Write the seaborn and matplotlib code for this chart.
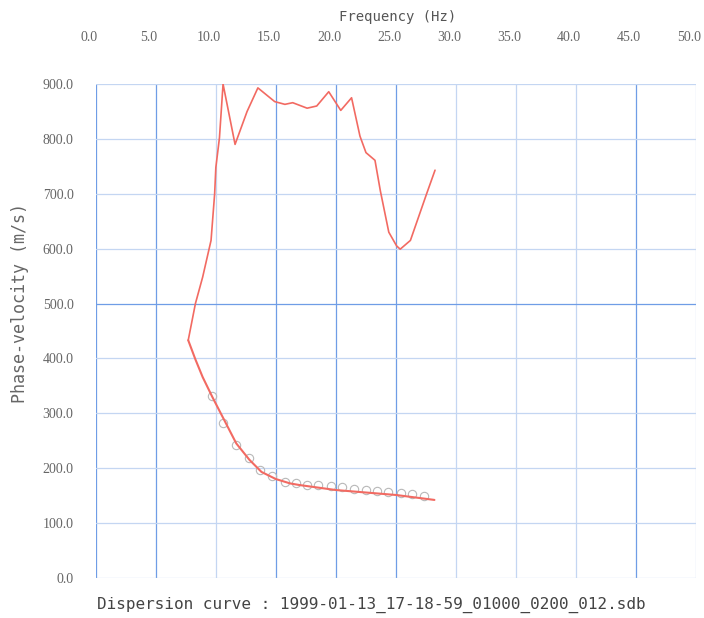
import numpy as np
import pandas as pd
import matplotlib
matplotlib.use("Agg")
import matplotlib.pyplot as plt
import matplotlib.transforms as mtransforms
import seaborn as sns

# upper branch of the dispersion curve (Hz, m/s)
upper_freq = [7.7, 8.3, 8.9, 9.6, 9.9, 10.0, 10.3, 10.6, 11.6, 12.6, 13.5, 14.9,
              15.75, 16.4, 17.6, 18.4, 19.4, 20.4, 21.3, 22.0, 22.5, 23.25,
              23.7, 24.4, 25.05, 25.35, 26.2, 27.55, 28.25]
upper_vel = [433, 500, 548, 615, 700, 748, 802, 900, 790, 850, 893, 868,
             863, 866, 856, 860, 886, 852, 875, 805, 775, 761,
             705, 630, 605, 599, 615, 700, 743]

# lower branch (fitted curve)
lower_freq = [7.7, 8.3, 8.9, 9.7, 10.5, 11.7, 12.8, 13.8, 15.0, 16.2, 17.0,
              20.0, 25.0, 28.2]
lower_vel = [433, 398, 366, 330, 296, 245, 215, 193, 180, 172, 169,
             160, 151, 142]

# observed points (hollow circles)
obs_freq = [9.7, 10.6, 11.7, 12.8, 13.7, 14.7, 15.75, 16.7, 17.6, 18.5, 19.6,
            20.5, 21.5, 22.5, 23.4, 24.3, 25.4, 26.3, 27.3]
obs_vel = [332, 282, 242, 218, 196, 185, 175, 172, 170, 169, 168,
           165, 162, 160, 158, 156, 154, 152, 150]

x_ticks = [0, 5, 10, 15, 20, 25, 30, 35, 40, 45, 50]
y_ticks = [0, 100, 200, 300, 400, 500, 600, 700, 800, 900]

sns.set_style("white")

fig = plt.figure(figsize=(7.04, 6.18), dpi=100)
ax = fig.add_axes([0.136, 0.065, 0.853, 0.799])

# grid: mostly faint, some lines stronger as in the scan
faint = "#c4d6f2"
strong = "#6f9de6"
for xv in x_ticks:
    c = strong if xv in (0, 5, 15, 20, 25, 45) else faint
    ax.axvline(xv, color=c, lw=0.9, zorder=0)
for yv in y_ticks:
    c = strong if yv == 500 else faint
    ax.axhline(yv, color=c, lw=0.9, zorder=0)

line_color = "#f26a62"
sns.lineplot(x=obs_freq, y=obs_vel, ax=ax, sort=False, linestyle="none",
             marker="o", markersize=6, markerfacecolor="none",
             markeredgecolor="#b8b8b8", markeredgewidth=0.8, zorder=2)
sns.lineplot(x=upper_freq, y=upper_vel, ax=ax, sort=False, color=line_color,
             lw=1.2, zorder=3)
sns.lineplot(x=lower_freq, y=lower_vel, ax=ax, sort=False, color=line_color,
             lw=1.5, zorder=3)

ax.set_xlim(0, 50)
ax.set_ylim(0, 900)
for s in ax.spines.values():
    s.set_visible(False)

ax.xaxis.tick_top()
ax.set_xticks(x_ticks)
ax.set_xticklabels([f"{v:.1f}" for v in x_ticks])
ax.set_yticks(y_ticks)
ax.set_yticklabels([f"{v:.1f}" for v in y_ticks])
ax.tick_params(axis="x", length=0, pad=29, labelsize=10, labelcolor="#666666")
ax.tick_params(axis="y", length=0, pad=16, labelsize=10, labelcolor="#666666")
shift = mtransforms.ScaledTranslation(-7 / 100, 0, fig.dpi_scale_trans)
for lab in ax.get_xticklabels():
    lab.set_family("Liberation Serif")
    lab.set_transform(lab.get_transform() + shift)
for lab in ax.get_yticklabels():
    lab.set_family("Liberation Serif")

ax.set_xlabel("")
ax.set_ylabel("")
fig.text(0.565, 0.972, "Frequency (Hz)", family="DejaVu Sans Mono",
         fontsize=10, color="#555555", ha="center", va="center")
fig.text(0.028, 0.51, "Phase-velocity (m/s)", family="DejaVu Sans Mono",
         fontsize=12, color="#666666", ha="center", va="center", rotation=90)
fig.text(0.138, 0.021,
         "Dispersion curve : 1999-01-13_17-18-59_01000_0200_012.sdb",
         family="DejaVu Sans Mono", fontsize=11.5, color="#444444",
         ha="left", va="center")

fig.savefig("out.png", dpi=100)
